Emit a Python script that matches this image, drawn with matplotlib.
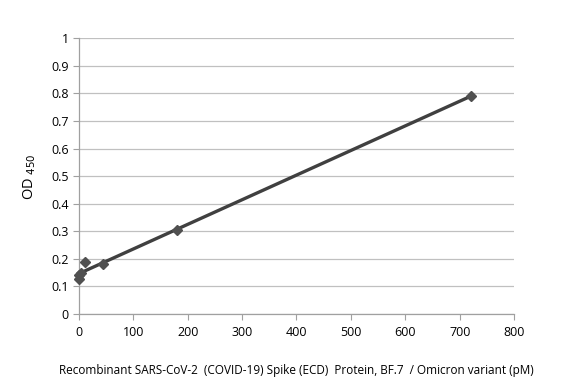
import numpy as np
import matplotlib.pyplot as plt

# ── Data ──────────────────────────────────────────────────────────────────────
conc_pm = [0, 0.7, 2.8, 11.25, 45, 180, 720]
od450 = [0.128, 0.14, 0.15, 0.19, 0.18, 0.305, 0.79]

x_ticks = [0, 100, 200, 300, 400, 500, 600, 700, 800]
y_ticks = [0, 0.1, 0.2, 0.3, 0.4, 0.5, 0.6, 0.7, 0.8, 0.9, 1]
y_tick_labels = ["0", "0.1", "0.2", "0.3", "0.4", "0.5", "0.6", "0.7", "0.8", "0.9", "1"]

plt.rcParams["font.family"] = ["Open Sans", "DejaVu Sans"]

# linear trendline through the standards
slope, intercept = np.polyfit(conc_pm, od450, 1)
x_line = np.array([min(conc_pm), max(conc_pm)])

fig = plt.figure(figsize=(5.82, 3.8), dpi=100)
ax = fig.add_axes([0.1357, 0.1737, 0.7475, 0.7255])

ax.plot(x_line, slope * x_line + intercept, color="#404040", linewidth=2.4,
        zorder=3, clip_on=False)
ax.plot(conc_pm, od450, linestyle="none", marker="D", markersize=5.5,
        color="#505050", zorder=4, clip_on=False)

ax.set_xlim(0, 800)
ax.set_ylim(0, 1)
ax.set_xticks(x_ticks)
ax.set_yticks(y_ticks)
ax.set_yticklabels(y_tick_labels)
ax.tick_params(axis="both", labelsize=9, colors="#a0a0a0", labelcolor="black",
               length=4, width=0.8, direction="out")
ax.tick_params(axis="x", pad=5)

ax.grid(True, axis="y", color="#c0c0c0", linewidth=0.9)
ax.set_axisbelow(True)
for side in ["top", "right"]:
    ax.spines[side].set_visible(False)
for side in ["left", "bottom"]:
    ax.spines[side].set_color("#a0a0a0")
    ax.spines[side].set_linewidth(0.9)

ax.set_ylabel("OD $_{450}$", fontsize=10.5)
ax.yaxis.set_label_coords(-0.095, 0.5)
ax.set_xlabel("Recombinant SARS-CoV-2  (COVID-19) Spike (ECD)  Protein, BF.7  / Omicron variant (pM)",
              fontsize=8.5, labelpad=18)

plt.savefig("out.png", dpi=100)
